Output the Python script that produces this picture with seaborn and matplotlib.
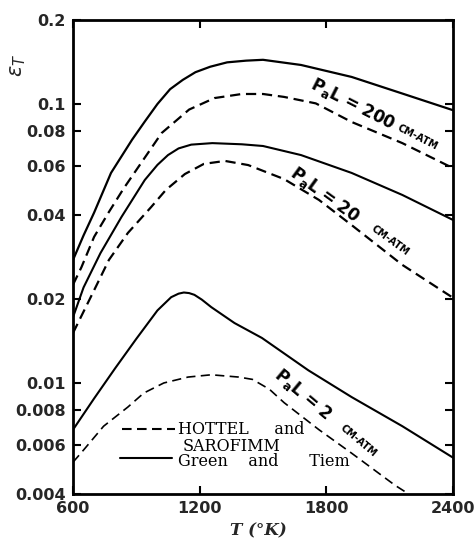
import matplotlib
matplotlib.use("Agg")
import matplotlib.pyplot as plt
import seaborn as sns
import pandas as pd
from matplotlib.ticker import FixedLocator, FixedFormatter, NullLocator

# Total emissivity of CO2 vs temperature for three path lengths P_aL
# Green and Tiem (solid curves)
T_GT_200 = [600, 650, 700, 780, 880, 940, 1000, 1060, 1120, 1180, 1250, 1330, 1420, 1500, 1680, 1920, 2160, 2400]
E_GT_200 = [0.0276, 0.0338, 0.0408, 0.0566, 0.0745, 0.0865, 0.100, 0.113, 0.122, 0.130, 0.136, 0.141, 0.143, 0.144, 0.138, 0.125, 0.109, 0.095]

T_GT_20 = [600, 650, 730, 830, 940, 1000, 1050, 1100, 1160, 1260, 1400, 1500, 1680, 1920, 2160, 2400]
E_GT_20 = [0.0172, 0.0220, 0.0292, 0.0394, 0.0534, 0.0605, 0.0656, 0.0693, 0.0715, 0.0724, 0.0717, 0.0707, 0.0656, 0.0566, 0.0472, 0.0384]

T_GT_2 = [600, 700, 800, 900, 1000, 1065, 1100, 1125, 1150, 1175, 1210, 1255, 1365, 1495, 1715, 1920, 2160, 2400]
E_GT_2 = [0.0068, 0.0088, 0.0113, 0.0144, 0.0182, 0.0203, 0.0209, 0.0211, 0.0210, 0.0207, 0.0199, 0.0187, 0.0164, 0.0145, 0.0111, 0.0089, 0.0070, 0.0054]

# Hottel and Sarofim (dashed curves)
T_HS_200 = [600, 640, 700, 770, 840, 910, 1020, 1150, 1270, 1400, 1500, 1600, 1750, 1920, 2160, 2400]
E_HS_200 = [0.0225, 0.026, 0.0334, 0.041, 0.0498, 0.0595, 0.0787, 0.0955, 0.105, 0.1086, 0.1086, 0.106, 0.1005, 0.0862, 0.0724, 0.0589]

T_HS_20 = [600, 700, 770, 860, 970, 1040, 1130, 1220, 1320, 1430, 1600, 1765, 1920, 2160, 2400]
E_HS_20 = [0.0151, 0.0215, 0.0276, 0.0345, 0.0427, 0.0492, 0.0561, 0.0610, 0.0625, 0.0604, 0.0538, 0.0453, 0.0368, 0.0265, 0.0202]

T_HS_2 = [600, 650, 745, 860, 935, 1030, 1145, 1255, 1385, 1450, 1530, 1600, 1765, 1920, 2125, 2190]
E_HS_2 = [0.0052, 0.00575, 0.0070, 0.0082, 0.0092, 0.0100, 0.0105, 0.0107, 0.0105, 0.0103, 0.0095, 0.0085, 0.0068, 0.0056, 0.0043, 0.0040]

X_TICKS = [600, 1200, 1800, 2400]
X_TICK_LABELS = ["600", "1200", "1800", "2400"]
Y_TICKS = [0.004, 0.006, 0.008, 0.01, 0.02, 0.04, 0.06, 0.08, 0.1, 0.2]
Y_TICK_LABELS = ["0.004", "0.006", "0.008", "0.01", "0.02", "0.04", "0.06", "0.08", "0.1", "0.2"]

sns.set_theme(style="ticks")
plt.rcParams["font.family"] = ["DejaVu Sans"]
plt.rcParams["mathtext.fontset"] = "dejavusans"

fig = plt.figure(figsize=(4.74, 5.48), dpi=100)
ax = fig.add_axes([73 / 474, 54 / 548, 380 / 474, 474 / 548])

dash = (0, (4.6, 2.6))
curves = [
    (T_GT_200, E_GT_200, "-", 1.6),
    (T_GT_20, E_GT_20, "-", 1.5),
    (T_GT_2, E_GT_2, "-", 1.5),
    (T_HS_200, E_HS_200, dash, 1.6),
    (T_HS_20, E_HS_20, dash, 1.6),
    (T_HS_2, E_HS_2, (0, (5.5, 3.2)), 1.2),
]
for T, E, ls, lw in curves:
    df = pd.DataFrame({"T": T, "eps": E})
    sns.lineplot(data=df, x="T", y="eps", ax=ax, color="black",
                 linestyle=ls, linewidth=lw, estimator=None, legend=False)

ax.set_yscale("log")
ax.set_xlim(600, 2400)
ax.set_ylim(0.004, 0.2)
ax.xaxis.set_major_locator(FixedLocator(X_TICKS))
ax.xaxis.set_major_formatter(FixedFormatter(X_TICK_LABELS))
ax.yaxis.set_major_locator(FixedLocator(Y_TICKS))
ax.yaxis.set_major_formatter(FixedFormatter(Y_TICK_LABELS))
ax.yaxis.set_minor_locator(NullLocator())
ax.xaxis.set_minor_locator(NullLocator())

for s in ax.spines.values():
    s.set_visible(True)
    s.set_linewidth(2.0)
    s.set_color("black")

ax.tick_params(axis="both", which="major", direction="in", length=6, width=1.5,
               top=True, right=True, color="black", labelsize=11.5, pad=5)
for lab in ax.get_xticklabels() + ax.get_yticklabels():
    lab.set_fontweight("bold")

# axis titles
ax.set_xlabel("T (°K)", family="DejaVu Serif", style="italic", fontsize=12,
              fontweight="bold", va="center")
ax.xaxis.set_label_coords(0.487, -0.078)
ax.set_ylabel(r"$\varepsilon_T$", fontsize=15, rotation=90, va="center", ha="center")
ax.yaxis.set_label_coords(-0.145, 0.905)

# curve labels along the lines
lbl = dict(ha="center", va="center", rotation_mode="anchor", color="black",
           fontweight="bold")
ax.text(1926, 0.100, r"$\mathbf{P_{a}L}$ = 200", rotation=-27, fontsize=12, **lbl)
ax.text(2230, 0.0761, "CM-ATM", rotation=-27, fontsize=7, **lbl)
ax.text(1794, 0.0471, r"$\mathbf{P_{a}L}$ = 20", rotation=-36, fontsize=12, **lbl)
ax.text(2102, 0.0325, "CM-ATM", rotation=-36, fontsize=7, **lbl)
ax.text(1690, 0.00907, r"$\mathbf{P_{a}L}$ = 2", rotation=-40, fontsize=12, **lbl)
ax.text(1950, 0.00622, "CM-ATM", rotation=-40, fontsize=7, **lbl)

# key
tr = ax.transAxes
ax.plot([0.129, 0.268], [0.137, 0.137], transform=tr, color="black",
        linestyle=dash, linewidth=1.5)
ax.plot([0.124, 0.261], [0.076, 0.076], transform=tr, color="black",
        linestyle="-", linewidth=1.5)
key = dict(transform=tr, family="DejaVu Serif", fontsize=11.5, va="center",
           ha="left", color="black")
ax.text(0.276, 0.137, "HOTTEL     and", **key)
ax.text(0.289, 0.101, "SAROFIMM", **key)
ax.text(0.276, 0.068, "Green    and      Tiem", **key)

fig.savefig("out.png", dpi=100)
